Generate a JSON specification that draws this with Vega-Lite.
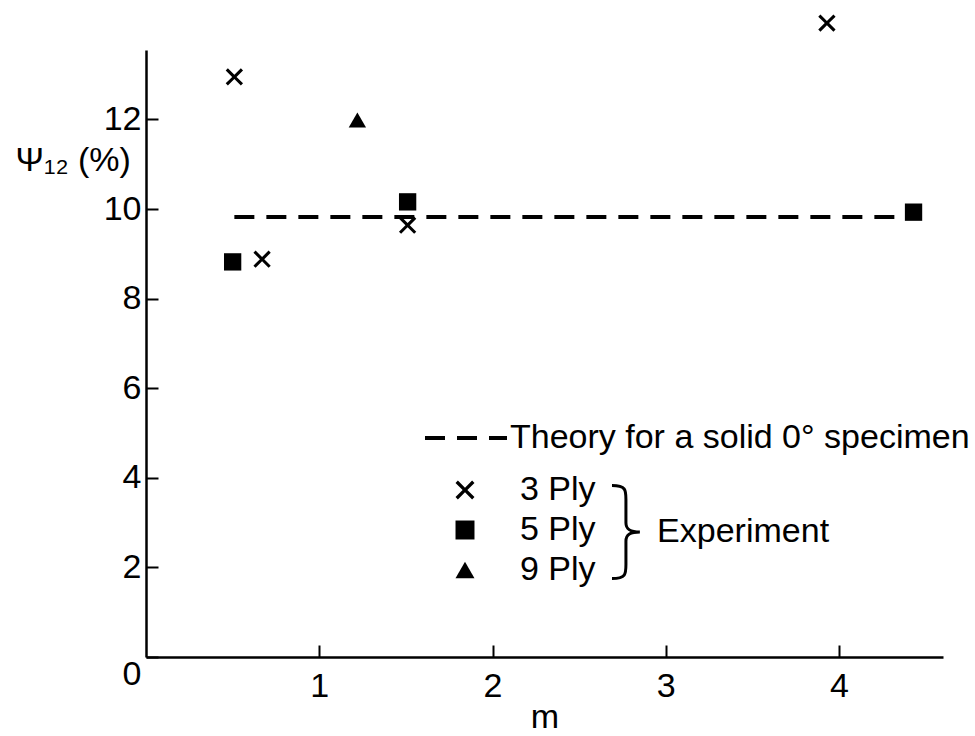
{
  "$schema": "https://vega.github.io/schema/vega-lite/v6.json",
  "width": 797,
  "height": 607,
  "autosize": "none",
  "padding": {"left": 146, "top": 50, "right": 32, "bottom": 79},
  "background": "white",
  "config": {
    "font": "Liberation Sans",
    "view": {"stroke": null},
    "axis": {
      "domainColor": "black", "domainWidth": 2.5,
      "tickColor": "black", "tickWidth": 2, "tickSize": -12,
      "labelColor": "black", "labelFontSize": 34, "labelFont": "Liberation Sans",
      "titleColor": "black", "titleFontSize": 34, "titleFont": "Liberation Sans", "titleFontWeight": "normal",
      "grid": false
    },
    "legend": {
      "labelFontSize": 34, "labelColor": "black", "labelFont": "Liberation Sans", "labelLimit": 0,
      "padding": 0, "orient": "none", "title": null
    }
  },
  "datasets": {
    "exp": [
      {"ply": "3 Ply", "m": 0.51, "psi": 12.95},
      {"ply": "3 Ply", "m": 0.67, "psi": 8.88},
      {"ply": "3 Ply", "m": 1.51, "psi": 9.64},
      {"ply": "3 Ply", "m": 3.93, "psi": 14.15},
      {"ply": "5 Ply", "m": 0.5, "psi": 8.82},
      {"ply": "5 Ply", "m": 1.51, "psi": 10.16},
      {"ply": "5 Ply", "m": 4.43, "psi": 9.93},
      {"ply": "9 Ply", "m": 1.22, "psi": 11.99}
    ],
    "theory": [
      {"series": "Theory for a solid 0° specimen", "m": 0.51, "psi": 9.82},
      {"series": "Theory for a solid 0° specimen", "m": 4.33, "psi": 9.82}
    ],
    "note": [
      {"label": "Experiment"}
    ]
  },
  "layer": [
    {
      "data": {"name": "theory"},
      "mark": {"type": "line", "strokeWidth": 4, "color": "black"},
      "encoding": {
        "x": {"field": "m", "type": "quantitative", "scale": {"domain": [0, 4.6], "nice": false},
          "axis": {"values": [1, 2, 3, 4], "format": "d", "title": "m", "labelPadding": 24, "titlePadding": -3}},
        "y": {"field": "psi", "type": "quantitative", "scale": {"domain": [0, 13.55], "nice": false},
          "axis": {"values": [0, 2, 4, 6, 8, 10, 12], "format": "d", "labelPadding": 17,
            "labelBaseline": {"condition": {"test": "datum.value == 0", "value": "top"}, "value": "middle"},
            "title": "Ψ₁₂ (%)", "titleAngle": 0, "titleAlign": "left", "titleBaseline": "middle",
            "titleX": -131, "titleY": 110}},
        "strokeDash": {"field": "series", "type": "nominal", "scale": {"range": [[20, 12]]},
          "legend": {"legendX": 277, "legendY": 345, "symbolSize": 6724, "symbolStrokeWidth": 4, "symbolStrokeColor": "black", "labelOffset": 1}}
      }
    },
    {
      "data": {"name": "exp"},
      "mark": {"type": "point", "filled": true, "color": "black", "opacity": 1, "size": 300},
      "encoding": {
        "x": {"field": "m", "type": "quantitative"},
        "y": {"field": "psi", "type": "quantitative"},
        "shape": {"field": "ply", "type": "nominal",
          "scale": {"domain": ["3 Ply", "5 Ply", "9 Ply"], "range": ["M-1,-0.75L-0.75,-1L0,-0.25L0.75,-1L1,-0.75L0.25,0L1,0.75L0.75,1L0,0.25L-0.75,1L-1,0.75L-0.25,0Z", "square", "triangle-up"]},
          "legend": {"legendX": 302, "legendY": 423, "symbolSize": 360, "symbolFillColor": "black", "symbolStrokeWidth": 0, "labelOffset": 38, "rowPadding": 6, "symbolOpacity": 1}}
      }
    },
    {
      "data": {"name": "note"},
      "mark": {"type": "point", "shape": "M-0.3,-1C0,-1 0,-0.9 0,-0.7L0,-0.2C0,-0.05 0.1,0 0.3,0C0.1,0 0,0.05 0,0.2L0,0.7C0,0.9 0,1 -0.3,1", "filled": false, "stroke": "black", "strokeWidth": 3, "size": 8649, "opacity": 1},
      "encoding": {"x": {"datum": 2.77, "type": "quantitative"}, "y": {"datum": 2.79, "type": "quantitative"}}
    },
    {
      "data": {"name": "note"},
      "mark": {"type": "text", "align": "left", "baseline": "middle", "fontSize": 34, "color": "black", "font": "Liberation Sans"},
      "encoding": {"text": {"field": "label"}, "x": {"datum": 2.95, "type": "quantitative"}, "y": {"datum": 2.8, "type": "quantitative"}}
    }
  ]
}
